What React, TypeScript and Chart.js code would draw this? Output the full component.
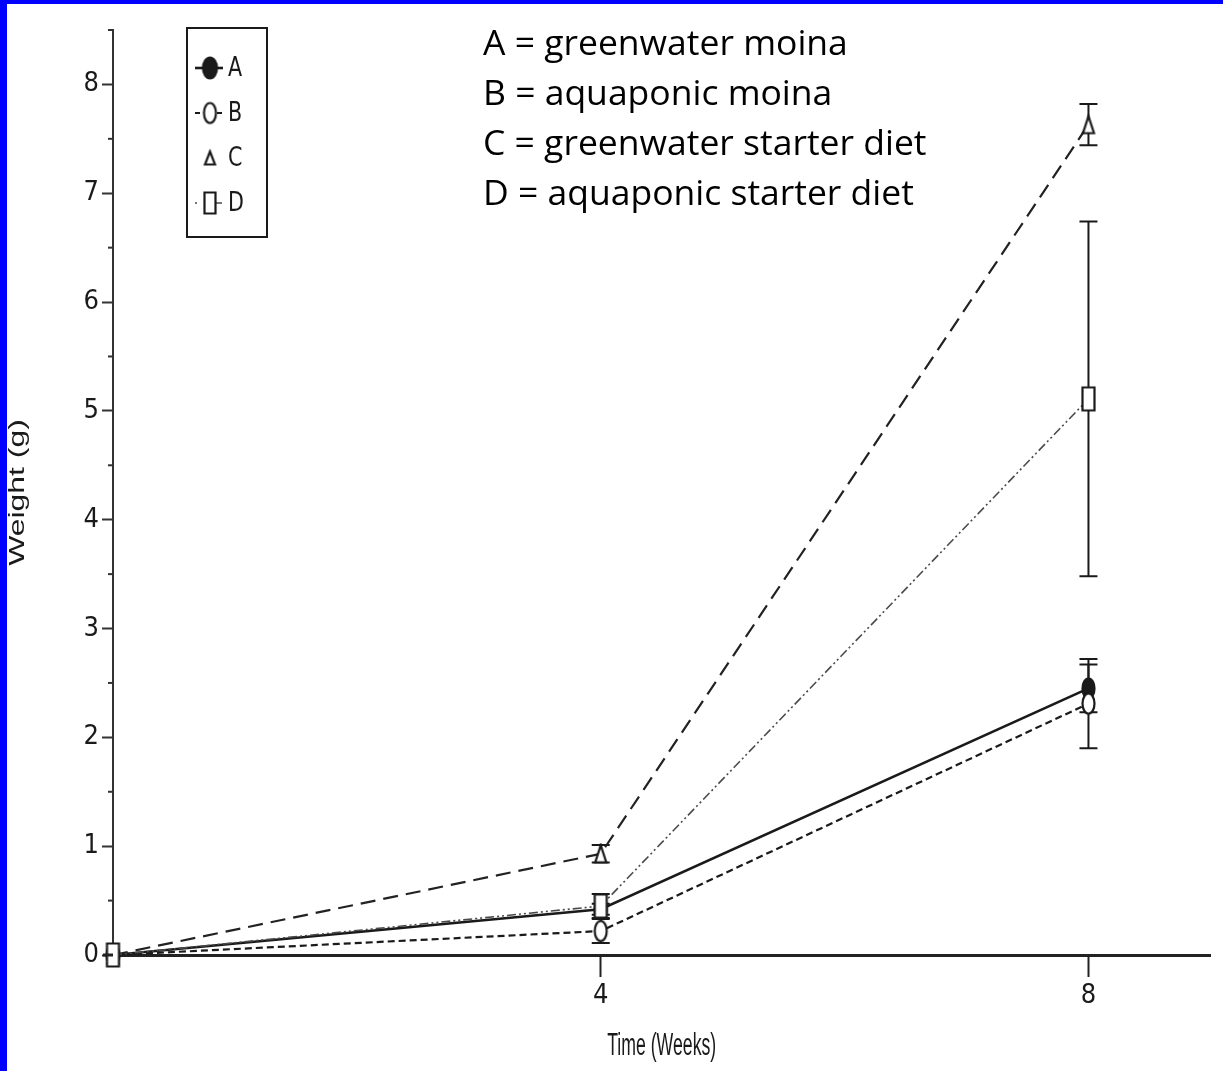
import React, { useEffect, useRef } from 'react';
import { Chart, registerables } from 'chart.js';

Chart.register(...registerables);

// ---- data ----
const weeks = [0, 4, 8];
const seriesNames = ['A', 'B', 'C', 'D'];
const valuesA = [0, 0.42, 2.45];
const valuesB = [0, 0.22, 2.31];
const valuesC = [0, 0.93, 7.63];
const valuesD = [0, 0.45, 5.11];
const errorsA = [0, 0.05, 0.22];
const errorsB = [0, 0.11, 0.41];
const errorsC = [0, 0.08, 0.19];
const errorsD = [0, 0.11, 1.63];
const xTickValues = [4, 8];
const yTickValues = [0, 1, 2, 3, 4, 5, 6, 7, 8];
const yMinorTickValues = [0.5, 1.5, 2.5, 3.5, 4.5, 5.5, 6.5, 7.5, 8.5];
const annotationLines = [
  'A = greenwater moina',
  'B = aquaponic moina',
  'C = greenwater starter diet',
  'D = aquaponic starter diet',
];
const xTitle = 'Time (Weeks)';
const yTitle = 'Weight (g)';

const NARROW = "'Liberation Sans Narrow', 'DejaVu Sans Condensed', 'Liberation Sans', Arial, sans-serif";
const INK = '#1a1a1a';

function makeMarker(shape: string, w: number, h: number, filled: boolean): HTMLCanvasElement {
  const c = document.createElement('canvas');
  c.width = w + 5;
  c.height = h + 5;
  const ctx = c.getContext('2d')!;
  ctx.lineWidth = 2.2;
  ctx.strokeStyle = INK;
  ctx.fillStyle = filled ? INK : '#ffffff';
  const cx = c.width / 2;
  const cy = c.height / 2;
  ctx.beginPath();
  if (shape === 'ellipse') {
    ctx.ellipse(cx, cy, w / 2, h / 2, 0, 0, Math.PI * 2);
  } else if (shape === 'triangle') {
    ctx.moveTo(cx, cy - h / 2);
    ctx.lineTo(cx + w / 2, cy + h / 2);
    ctx.lineTo(cx - w / 2, cy + h / 2);
    ctx.closePath();
  } else {
    ctx.rect(cx - w / 2, cy - h / 2, w, h);
  }
  ctx.fill();
  ctx.stroke();
  return c;
}

export default function App() {
  const canvasRef = useRef<HTMLCanvasElement | null>(null);

  useEffect(() => {
    document.body.style.margin = '0';
    const canvas = canvasRef.current;
    if (!canvas) return;

    const markers = [
      makeMarker('ellipse', 12, 20, true),
      makeMarker('ellipse', 12, 20, false),
      makeMarker('triangle', 11, 17, false),
      makeMarker('rect', 12, 23, false),
    ];
    const legendMarkers = [
      makeMarker('ellipse', 14, 21, true),
      makeMarker('ellipse', 12, 20, false),
      makeMarker('triangle', 10, 13, false),
      makeMarker('rect', 11, 21, false),
    ];
    const values = [valuesA, valuesB, valuesC, valuesD];
    const errors = [errorsA, errorsB, errorsC, errorsD];
    const dashes = [[], [7, 4], [15, 8], [9, 3, 2, 3, 2, 3]];
    const widths = [2.6, 2.2, 2.2, 1.6];
    const colors = [INK, INK, '#222222', '#4a4a4a'];
    const orders = [3, 2, 1, 0];
    const legendDashes = [[], [5, 17, 5], [0, 30], [2, 19, 6]];

    const datasets = seriesNames.map((name, i) => ({
      label: name,
      data: weeks.map((w, j) => ({ x: w, y: values[i][j] })),
      borderColor: colors[i],
      backgroundColor: colors[i],
      borderWidth: widths[i],
      borderDash: dashes[i],
      pointStyle: markers[i],
      pointRadius: 10,
      pointHoverRadius: 10,
      fill: false,
      tension: 0,
      clip: false,
      order: orders[i],
      errors: errors[i],
    }));

    const customPlugin = {
      id: 'customDecor',
      beforeDatasetsDraw(chart: any) {
        const ctx = chart.ctx;
        const xs = chart.scales.x;
        const ys = chart.scales.y;
        ctx.save();
        chart.data.datasets.forEach((ds: any) => {
          ds.data.forEach((p: any, j: number) => {
            const e = ds.errors[j];
            if (!e) return;
            const px = xs.getPixelForValue(p.x);
            const top = ys.getPixelForValue(p.y + e);
            const bot = ys.getPixelForValue(p.y - e);
            ctx.strokeStyle = INK;
            ctx.lineWidth = 2;
            ctx.setLineDash([]);
            ctx.beginPath();
            ctx.moveTo(px, top);
            ctx.lineTo(px, bot);
            ctx.moveTo(px - 9, top);
            ctx.lineTo(px + 9, top);
            ctx.moveTo(px - 9, bot);
            ctx.lineTo(px + 9, bot);
            ctx.stroke();
          });
        });
        ctx.restore();
      },
      afterDraw(chart: any) {
        const ctx = chart.ctx;
        const ys = chart.scales.y;
        const area = chart.chartArea;
        ctx.save();
        // minor ticks
        ctx.strokeStyle = '#333';
        ctx.lineWidth = 2;
        ctx.setLineDash([]);
        yMinorTickValues.forEach((v) => {
          const py = ys.getPixelForValue(v);
          ctx.beginPath();
          ctx.moveTo(area.left - 5, py);
          ctx.lineTo(area.left, py);
          ctx.stroke();
        });
        // small extension of the baseline to the left
        ctx.lineWidth = 3;
        ctx.strokeStyle = '#222';
        ctx.beginPath();
        ctx.moveTo(area.left - 10, area.bottom);
        ctx.lineTo(area.left, area.bottom);
        ctx.stroke();

        // y title
        ctx.fillStyle = INK;
        ctx.save();
        ctx.translate(18, (area.top + area.bottom) / 2);
        ctx.rotate(-Math.PI / 2);
        ctx.scale(1.45, 1);
        ctx.font = "22px 'Liberation Sans', Arial, sans-serif";
        ctx.textAlign = 'center';
        ctx.textBaseline = 'middle';
        ctx.fillText(yTitle, 0, 0);
        ctx.restore();

        // x title
        ctx.save();
        ctx.translate((area.left + area.right) / 2, 1046);
        ctx.scale(0.57, 1);
        ctx.font = "31px 'Liberation Sans', Arial, sans-serif";
        ctx.textAlign = 'center';
        ctx.textBaseline = 'middle';
        ctx.fillText(xTitle, 0, 0);
        ctx.restore();

        // legend box
        const bx = area.left + 74;
        const by = 28;
        ctx.strokeStyle = INK;
        ctx.lineWidth = 2;
        ctx.strokeRect(bx, by, 80, 209);
        chart.data.datasets.forEach((ds: any, i: number) => {
          const ly = by + 40 + i * 45;
          ctx.save();
          ctx.strokeStyle = ds.borderColor;
          ctx.lineWidth = ds.borderWidth;
          ctx.setLineDash(legendDashes[i]);
          ctx.beginPath();
          ctx.moveTo(bx + 8, ly);
          ctx.lineTo(bx + 36, ly);
          ctx.stroke();
          ctx.restore();
          const m = legendMarkers[i];
          ctx.drawImage(m, bx + 23 - m.width / 2, ly - m.height / 2);
          ctx.save();
          ctx.fillStyle = INK;
          ctx.translate(bx + 41, ly + 1);
          ctx.scale(0.85, 1);
          ctx.font = `27px ${NARROW}`;
          ctx.textAlign = 'left';
          ctx.textBaseline = 'middle';
          ctx.fillText(ds.label, 0, 0);
          ctx.restore();
        });
        ctx.restore();
      },
    };

    const chart = new Chart(canvas, {
      type: 'line',
      data: { datasets } as any,
      options: {
        animation: false,
        responsive: false,
        maintainAspectRatio: false,
        layout: { padding: { top: 30, right: 8, left: 0, bottom: 0 } },
        plugins: { legend: { display: false }, tooltip: { enabled: false } },
        scales: {
          x: {
            type: 'linear',
            min: 0,
            max: 9,
            afterBuildTicks: (s: any) => {
              s.ticks = xTickValues.map((v) => ({ value: v }));
            },
            afterFit: (s: any) => {
              s.height = 116;
            },
            grid: { drawOnChartArea: false, tickLength: 22, tickColor: '#222', tickWidth: 2 },
            border: { color: '#222', width: 3 },
            ticks: { font: { family: NARROW, size: 27 }, color: INK, padding: 3, maxRotation: 0, autoSkip: false },
          },
          y: {
            type: 'linear',
            min: 0,
            max: 8.5,
            afterBuildTicks: (s: any) => {
              s.ticks = yTickValues.map((v) => ({ value: v }));
            },
            afterFit: (s: any) => {
              s.width = 113;
            },
            grid: { drawOnChartArea: false, tickLength: 11, tickColor: '#333', tickWidth: 2 },
            border: { color: '#333', width: 2 },
            ticks: { font: { family: NARROW, size: 27 }, color: INK, padding: 3, autoSkip: false },
          },
        },
      } as any,
      plugins: [customPlugin],
    });

    return () => chart.destroy();
  }, []);

  return (
    <div style={{ position: 'fixed', left: 0, top: 0, width: 1223, height: 1071, background: '#ffffff', overflow: 'hidden' }}>
      <canvas ref={canvasRef} width={1223} height={1071} style={{ position: 'absolute', left: 0, top: 0, width: 1223, height: 1071 }} />
      <div style={{ position: 'absolute', left: 0, top: 0, width: 1223, height: 4, background: '#0000ff' }} />
      <div style={{ position: 'absolute', left: 0, top: 0, width: 7, height: 1071, background: '#0000ff' }} />
      <div style={{ position: 'absolute', left: 483, top: 16, fontFamily: "'Open Sans', 'Noto Sans', sans-serif", fontSize: 35.5, lineHeight: '50px', color: '#000', whiteSpace: 'nowrap' }}>
        {annotationLines.map((l) => (
          <div key={l}>{l}</div>
        ))}
      </div>
    </div>
  );
}
